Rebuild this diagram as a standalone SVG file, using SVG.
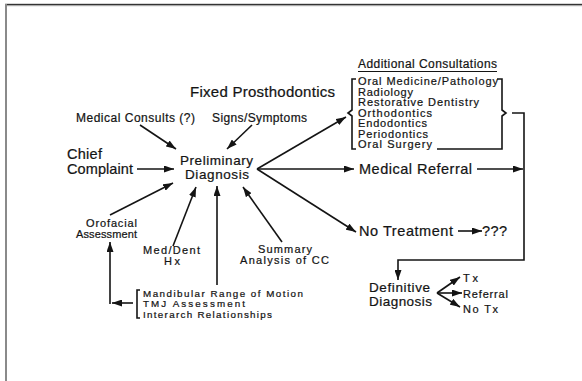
<svg xmlns="http://www.w3.org/2000/svg" width="582" height="381" viewBox="0 0 582 381">
<defs>
<style>
text{font-family:"Liberation Sans",Arial,sans-serif;fill:#141414;stroke:#141414;stroke-width:0.22;}
.l{font-size:14.5px;}
.d{font-size:13.5px;}
.xl{font-size:15px;}
.m{font-size:12px;}
.t{font-size:11px;}
.s{font-size:11px;}
.xs{font-size:9.8px;}
.c line,.c path,.c polyline,.b{stroke:#141414;stroke-width:1.6;fill:none;}
.a{marker-end:url(#ah);}
</style>
<marker id="ah" markerUnits="userSpaceOnUse" markerWidth="10" markerHeight="7" refX="10" refY="3.5" orient="auto">
<path d="M0,0 L10,3.5 L0,7 z" fill="#141414"/>
</marker>
</defs>
<rect x="0" y="0" width="582" height="381" fill="#ffffff"/>
<rect x="5" y="3.8" width="577" height="1.6" fill="#333333"/>
<rect x="5" y="5.4" width="577" height="0.8" fill="#aaaaaa"/>
<rect x="5" y="4" width="2" height="377" fill="#8a8a8a"/>

<g id="title"><text class="xl" x="190" y="97" textLength="145">Fixed Prosthodontics</text></g>
<g id="medical-consults"><text class="m" x="76" y="122" textLength="119">Medical Consults (?)</text></g>
<g id="signs-symptoms"><text class="m" x="212" y="122" textLength="95">Signs/Symptoms</text></g>
<g id="chief-complaint">
<text class="l" x="67" y="159" textLength="35">Chief</text>
<text class="l" x="67" y="174" textLength="66">Complaint</text>
</g>
<g id="preliminary-diagnosis">
<text class="d" x="180" y="164.5" textLength="73">Preliminary</text>
<text class="d" x="185" y="179" textLength="64">Diagnosis</text>
</g>
<g id="orofacial-assessment">
<text class="t" x="86" y="227" textLength="51">Orofacial</text>
<text class="t" x="76" y="238" textLength="61">Assessment</text>
</g>
<g id="med-dent-hx">
<text class="t" x="143" y="254" textLength="57">Med/Dent</text>
<text class="t" x="164" y="265" textLength="16">Hx</text>
</g>
<g id="summary-analysis">
<text class="t" x="258" y="253" textLength="54">Summary</text>
<text class="t" x="240" y="264" textLength="89">Analysis of CC</text>
</g>
<g id="mandibular-group">
<path class="b" d="M140,290 L137,290 L137,318 L140,318"/>
<text class="xs" x="143" y="296.5" textLength="160">Mandibular Range of Motion</text>
<text class="xs" x="143" y="307" textLength="102">TMJ Assessment</text>
<text class="xs" x="143" y="317.5" textLength="129">Interarch Relationships</text>
</g>
<g id="additional-consultations">
<text class="m" x="358" y="68" textLength="139">Additional Consultations</text>
<line class="b" x1="358" y1="71.5" x2="497" y2="71.5" style="stroke-width:1"/>
<path class="b" d="M356,79 L352,79 L352,110 L348,113 L352,116 L352,149 L356,149"/>
<path class="b" d="M497,79 L502,79 L502,110 L506,113 L502,116 L502,149 L437,149"/>
<text class="s" x="358" y="85" textLength="140">Oral Medicine/Pathology</text>
<text class="s" x="358" y="95.5" textLength="55">Radiology</text>
<text class="s" x="358" y="106" textLength="121">Restorative Dentistry</text>
<text class="s" x="358" y="116.5" textLength="74">Orthodontics</text>
<text class="s" x="358" y="127" textLength="69">Endodontics</text>
<text class="s" x="358" y="137.5" textLength="70">Periodontics</text>
<text class="s" x="358" y="148" textLength="74">Oral Surgery</text>
</g>
<g id="medical-referral"><text class="l" x="359" y="174" textLength="113">Medical Referral</text></g>
<g id="no-treatment">
<text class="l" x="359" y="236" textLength="94">No Treatment</text>
<text class="l" x="482" y="236" textLength="25">???</text>
</g>
<g id="definitive-diagnosis">
<text class="d" x="369" y="292" textLength="61">Definitive</text>
<text class="d" x="369" y="306" textLength="63">Diagnosis</text>
</g>
<g id="outcomes">
<text class="s" x="463" y="282" textLength="15">Tx</text>
<text class="s" x="463" y="298" textLength="45">Referral</text>
<text class="s" x="463" y="313" textLength="35">No Tx</text>
</g>

<g id="connectors" class="c">
<line class="a" x1="140" y1="125" x2="176" y2="149"/>
<line class="a" x1="252" y1="125" x2="227" y2="149"/>
<line class="a" x1="137" y1="169" x2="174" y2="169"/>
<line class="a" x1="110" y1="215" x2="173" y2="183"/>
<line class="a" x1="173" y1="246" x2="196" y2="187"/>
<line class="a" x1="217" y1="285" x2="217" y2="186"/>
<line class="a" x1="282" y1="242" x2="243" y2="187"/>
<line class="a" x1="133" y1="303" x2="112" y2="303"/>
<line class="a" x1="110" y1="304" x2="110" y2="242"/>
<line class="a" x1="257" y1="169" x2="346" y2="117"/>
<line class="a" x1="257" y1="169" x2="354" y2="169"/>
<line class="a" x1="257" y1="169" x2="356" y2="232"/>
<line class="a" x1="477" y1="169" x2="523" y2="169"/>
<line class="a" x1="458" y1="231" x2="482" y2="231"/>
<polyline class="a" points="512,113 524,113 524,260 398,260 398,280"/>
<line class="a" x1="437" y1="293" x2="460" y2="277"/>
<line class="a" x1="437" y1="293" x2="462" y2="293"/>
<line class="a" x1="437" y1="293" x2="460" y2="307"/>
</g>
</svg>
